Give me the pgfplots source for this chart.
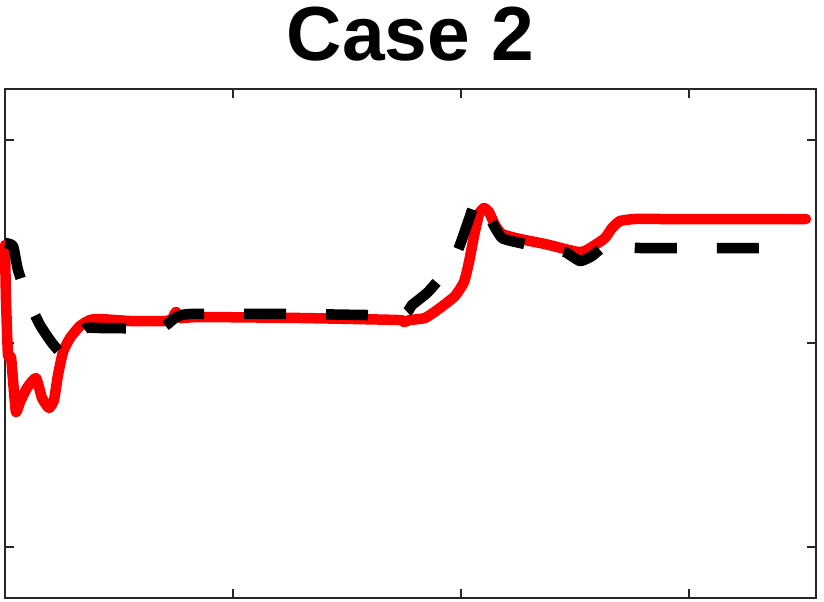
\documentclass[border=0pt]{standalone}
\usepackage{pgfplots}
\pgfplotsset{compat=1.18}
\usepackage{fontspec}
\setmainfont{Liberation Sans}
\definecolor{axgray}{RGB}{38,38,38}
\begin{document}
\begin{tikzpicture}
\begin{axis}[
  scale only axis,
  width=811bp, height=509bp,
  xmin=5, xmax=816, ymin=89, ymax=598,
  y dir=reverse,
  clip=false,
  axis line style={axgray, line width=1.6bp},
  every tick/.style={axgray, line width=1.6bp},
  major tick length=9bp,
  tick align=inside,
  tick pos=both,
  xtick={233,461,689}, ytick={140,343,547},
  xticklabels={}, yticklabels={},
]
\coordinate (bbA) at (axis cs:0,602);
\coordinate (bbB) at (axis cs:824,0);
\node[anchor=base, inner sep=0pt, font=\bfseries\fontsize{77}{77}\selectfont] at (axis cs:410.5,61) {Case 2};
% red (solid)
\addplot[red, line width=10.5bp, line join=round, line cap=round, smooth, tension=0.3] coordinates {
(5,245) (6,300) (8,355) (11,357) (13,380) (16,412) (20,402) (27,388) (36,378) (42,398) (49,408) (54,400) (58,375) (63,352) (70,338) (80,326) (90,320) (100,319) (130,321) (165,321) (172,319) (176,312) (180,318) (200,317) (300,318) (398,320) (404,322) (410,320) (425,318) (440,308) (455,296) (464,282) (469,262) (474,236) (479,214) (484,208) (489,212) (495,225) (502,234) (520,239) (545,244) (565,249) (578,252) (585,251) (595,245) (605,238) (612,228) (620,221) (635,219) (660,219) (806,219)
};
% black (dashed)
\addplot[black, line width=10.5bp, line join=round, line cap=butt, dash pattern=on 42bp off 40bp, smooth, tension=0.3] coordinates {
(5,243) (13,246) (18,270) (28,300) (40,325) (52,343) (62,354) (68,352) (76,338) (86,328) (100,328) (160,328) (175,318) (190,314) (300,314) (400,315) (412,305) (428,292) (445,272) (458,250) (468,222) (476,200) (483,202) (492,222) (502,238) (520,243) (545,248) (565,252) (580,261) (592,256) (605,245) (614,240) (625,246) (640,248) (778,248)
};
\end{axis}
\pgfresetboundingbox
\path[use as bounding box] (bbA) rectangle (bbB);
\end{tikzpicture}
\end{document}
